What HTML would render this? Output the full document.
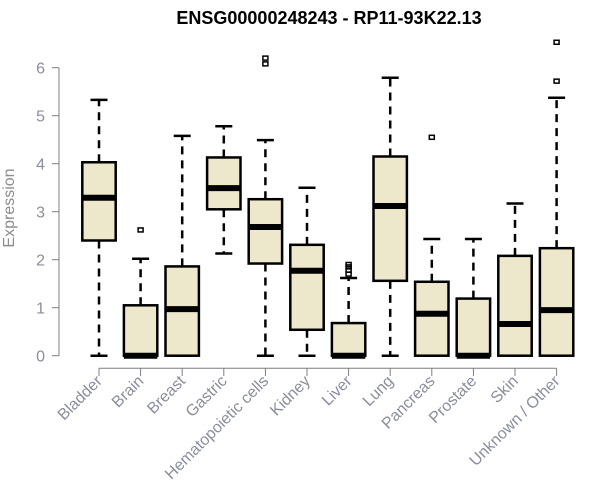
<!DOCTYPE html>
<html><head><meta charset="utf-8"><style>
body{margin:0;background:#fff;}
svg{display:block;font-family:"Liberation Sans",Arial,sans-serif;}
</style></head><body>
<svg id="chart" width="600" height="500" viewBox="0 0 600 500">
<text x="329" y="24" text-anchor="middle" font-size="18" font-weight="bold" fill="#000">ENSG00000248243 - RP11-93K22.13</text>
<text transform="translate(14,208) rotate(-90)" text-anchor="middle" font-size="16" fill="#8c8c8c">Expression</text>
<g id="axes"></g>
<g id="boxes"></g>
</svg>
<script>
const categories=["Bladder","Brain","Breast","Gastric","Hematopoietic cells","Kidney","Liver","Lung","Pancreas","Prostate","Skin","Unknown / Other"];
const lowWhisker=[0,0,0,2.13,0,0,0,0,0,0,0,0];
const q1=[2.40,0,0,3.05,1.92,0.54,0,1.56,0,0,0,0];
const medians=[3.29,0,0.97,3.49,2.68,1.77,0,3.12,0.875,0,0.66,0.95];
const q3=[4.03,1.05,1.86,4.13,3.26,2.31,0.68,4.15,1.54,1.19,2.08,2.24];
const highWhisker=[5.33,2.02,4.58,4.78,4.49,3.50,1.62,5.79,2.43,2.43,3.17,5.375];
const outliers=[[],[2.62],[],[],[6.08,6.2],[],[1.7,1.78,1.85,1.9],[],[4.55],[],[],[5.72,6.53]];
const yTicks=[0,1,2,3,4,5,6];
const NS="http://www.w3.org/2000/svg";
const y=v=>355.7-v*48;
const x=i=>99+i*41.6;
function mk(t,a,p){const e=document.createElementNS(NS,t);for(const k in a)e.setAttribute(k,a[k]);p.appendChild(e);return e;}
const ax=document.getElementById('axes'),bx=document.getElementById('boxes');
const gray="#7f7f7f";
let l=mk('line',{x1:59,x2:59,y1:y(6),y2:y(0),stroke:gray},ax);


yTicks.forEach(t=>{
 let tk=mk('line',{x1:52,x2:59,y1:y(t),y2:y(t),stroke:gray},ax);
 
 
 let tx=mk('text',{x:45,y:y(t)+6,'text-anchor':'end','font-size':16,fill:"#8a8e9c"},ax);
 tx.textContent=t;
 
 
});
l=mk('line',{x1:x(0),x2:x(categories.length-1),y1:368.3,y2:368.3,stroke:gray},ax);


categories.forEach((c,i)=>{
 let tk=mk('line',{x1:x(i),x2:x(i),y1:368.3,y2:376,stroke:gray},ax);
 
 
 let tx=mk('text',{transform:`translate(${x(i)+4},${382}) rotate(-45)`,'text-anchor':'end','font-size':16,fill:"#8a8e9c"},ax);
 tx.textContent=c;
 
 
 const g=mk('g',{},bx);
 
 
 const cx=x(i),hw=16.7;
 mk('line',{x1:cx,x2:cx,y1:y(q3[i]),y2:y(highWhisker[i]),stroke:"#000","stroke-width":2.5,"stroke-dasharray":"8,6"},g);
 mk('line',{x1:cx,x2:cx,y1:y(q1[i]),y2:y(lowWhisker[i]),stroke:"#000","stroke-width":2.5,"stroke-dasharray":"8,6"},g);
 mk('line',{x1:cx-8.5,x2:cx+8.5,y1:y(highWhisker[i]),y2:y(highWhisker[i]),stroke:"#000","stroke-width":2.5},g);
 mk('line',{x1:cx-8.5,x2:cx+8.5,y1:y(lowWhisker[i]),y2:y(lowWhisker[i]),stroke:"#000","stroke-width":2.5},g);
 mk('rect',{x:cx-hw,y:y(q3[i]),width:2*hw,height:y(q1[i])-y(q3[i]),fill:"#ede7cc",stroke:"#000","stroke-width":2.5},g);
 mk('line',{x1:cx-hw,x2:cx+hw,y1:y(medians[i]),y2:y(medians[i]),stroke:"#000","stroke-width":6},g);
 outliers[i].forEach(o=>{mk('rect',{x:cx-2.5,y:y(o)-2,width:5,height:4,fill:"none",stroke:"#000","stroke-width":1.5},g);});
});
</script>
</body></html>
